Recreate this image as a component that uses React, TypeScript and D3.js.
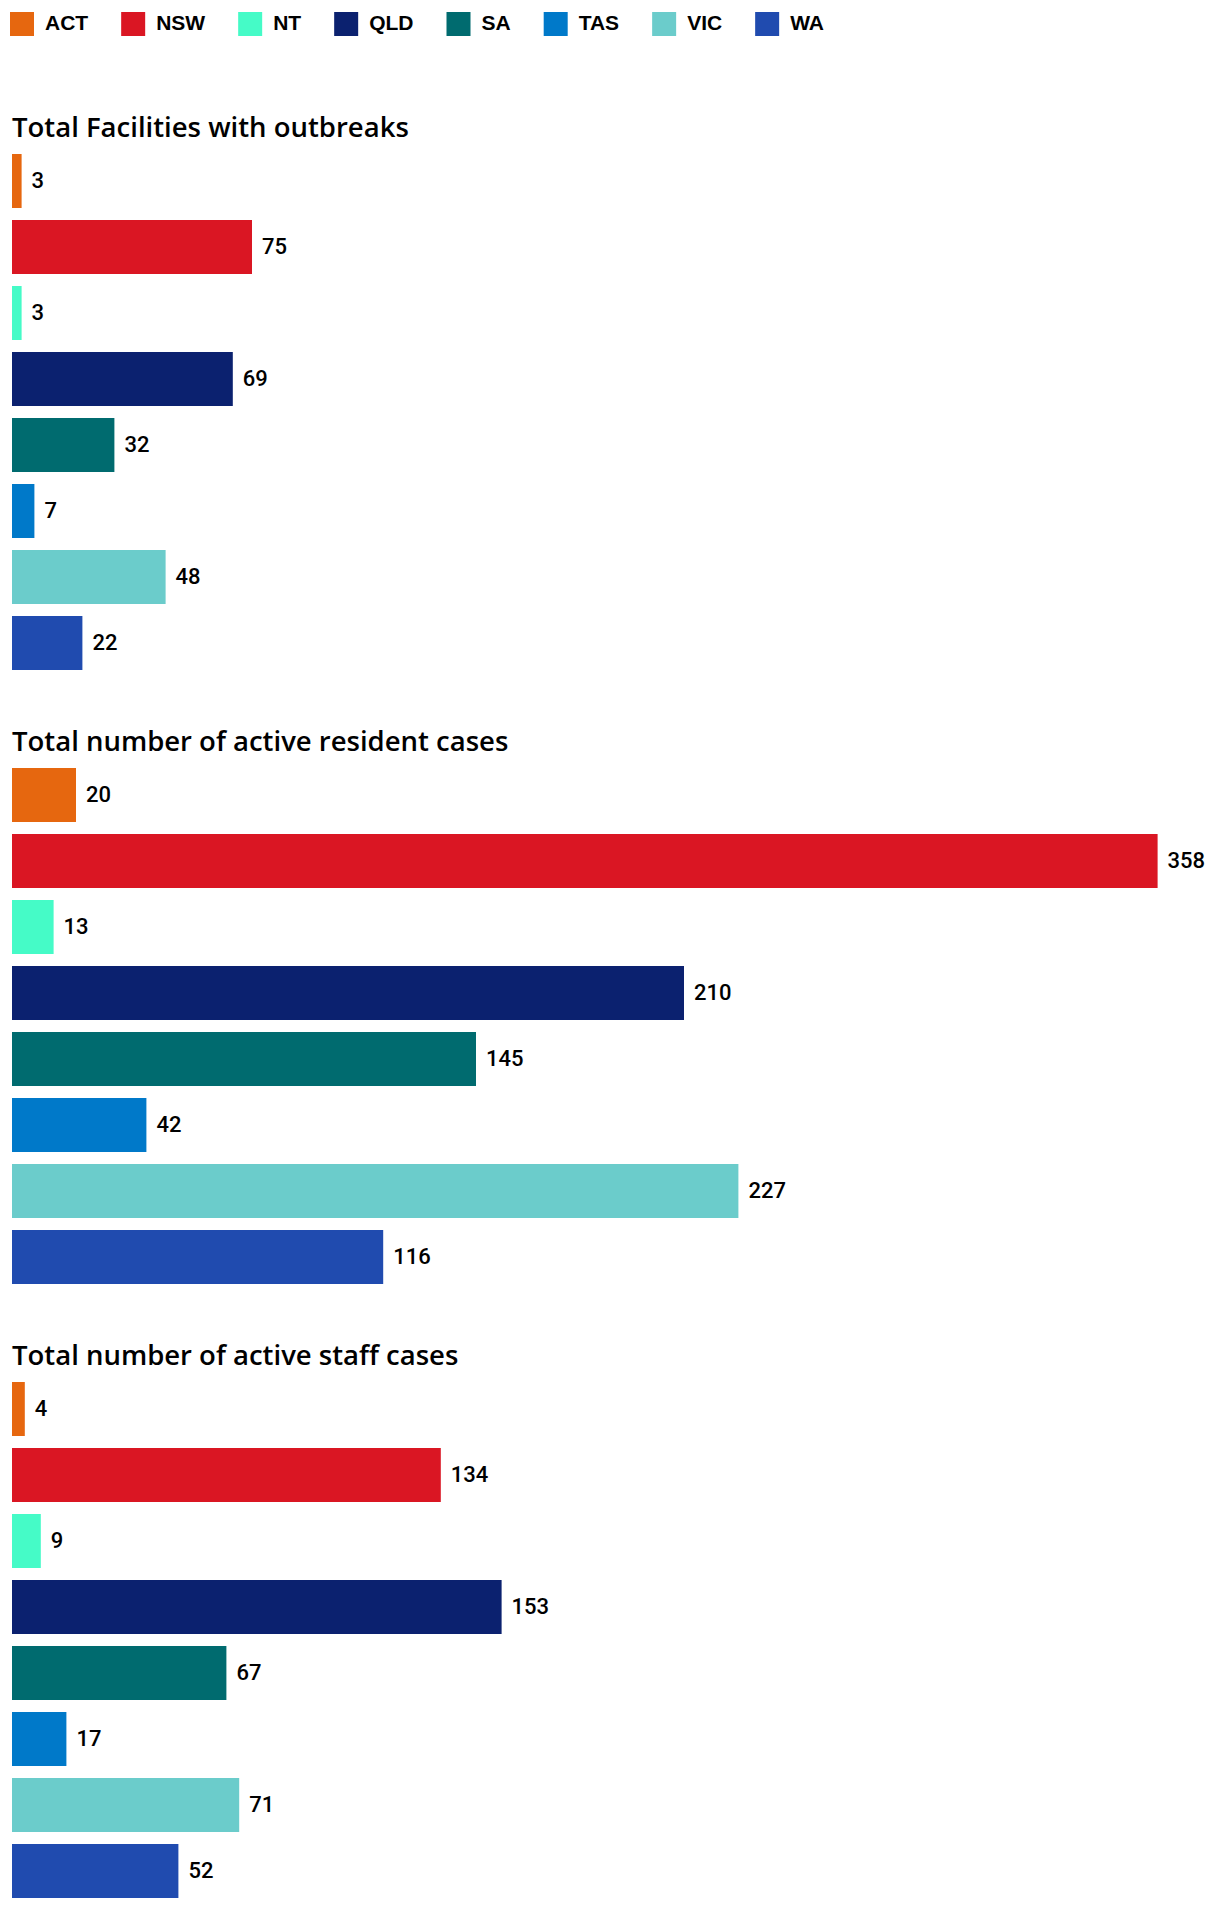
import { useRef, useEffect } from 'react';
import * as d3 from 'd3';

const states = ['ACT', 'NSW', 'NT', 'QLD', 'SA', 'TAS', 'VIC', 'WA'];
const stateColors = ['#e6670f', '#da1623', '#45fbc7', '#0b216f', '#006b6f', '#0079c9', '#6bcccb', '#204baf'];

const facilities = [3, 75, 3, 69, 32, 7, 48, 22];
const residentCases = [20, 358, 13, 210, 145, 42, 227, 116];
const staffCases = [4, 134, 9, 153, 67, 17, 71, 52];

const sectionTitles = [
  'Total Facilities with outbreaks',
  'Total number of active resident cases',
  'Total number of active staff cases',
];

const WIDTH = 1220;
const HEIGHT = 1910;

const App: React.FC = () => {
  const svgRef = useRef<SVGSVGElement | null>(null);

  useEffect(() => {
    const svg = d3.select(svgRef.current);
    svg.selectAll('*').remove();

    const sections = [facilities, residentCases, staffCases];
    const allMax = d3.max(sections.flat()) as number;

    const x = d3.scaleLinear()
      .domain([0, allMax])
      .range([12, 1157.6]);

    const color = d3.scaleOrdinal<string, string>()
      .domain(states)
      .range(stateColors);

    // legend
    const legend = svg.append('g');
    let lx = 10;
    states.forEach(s => {
      const g = legend.append('g').attr('transform', `translate(${lx},0)`);
      g.append('rect')
        .attr('x', 0)
        .attr('y', 12)
        .attr('width', 24)
        .attr('height', 24)
        .attr('fill', color(s));
      const t = g.append('text')
        .attr('x', 35)
        .attr('y', 30)
        .style('font-family', '"Liberation Sans", Arial, sans-serif')
        .style('font-weight', '700')
        .style('font-size', '21px')
        .attr('fill', '#000')
        .text(s);
      const w = (t.node() as SVGTextElement).getComputedTextLength();
      lx += 35 + w + 33;
    });

    const sectionTop = 154;
    const sectionStep = 614;

    sections.forEach((vals, i) => {
      const top = sectionTop + i * sectionStep;
      const y = d3.scaleBand<string>()
        .domain(states)
        .range([top, top + 8 * 66 - 12])
        .paddingInner(12 / 66)
        .paddingOuter(0);

      svg.append('text')
        .attr('x', 12)
        .attr('y', top - 17)
        .style('font-family', '"Open Sans", sans-serif')
        .style('font-weight', '600')
        .style('font-size', '27.5px')
        .attr('fill', '#000')
        .text(sectionTitles[i]);

      const data = states.map((s, j) => ({ state: s, value: vals[j] }));

      svg.append('g')
        .selectAll('rect')
        .data(data)
        .enter()
        .append('rect')
        .attr('x', x(0))
        .attr('y', d => y(d.state) as number)
        .attr('width', d => x(d.value) - x(0))
        .attr('height', y.bandwidth())
        .attr('fill', d => color(d.state));

      svg.append('g')
        .selectAll('text')
        .data(data)
        .enter()
        .append('text')
        .attr('x', d => x(d.value) + 10)
        .attr('y', d => (y(d.state) as number) + y.bandwidth() / 2 + 7)
        .style('font-family', 'Roboto, sans-serif')
        .style('font-weight', '500')
        .style('font-size', '22px')
        .attr('fill', '#000')
        .text(d => d.value);
    });
  }, []);

  return (
    <svg
      ref={svgRef}
      width={WIDTH}
      height={HEIGHT}
      style={{ position: 'absolute', left: 0, top: 0, background: '#fff' }}
    ></svg>
  );
};

export default App;
